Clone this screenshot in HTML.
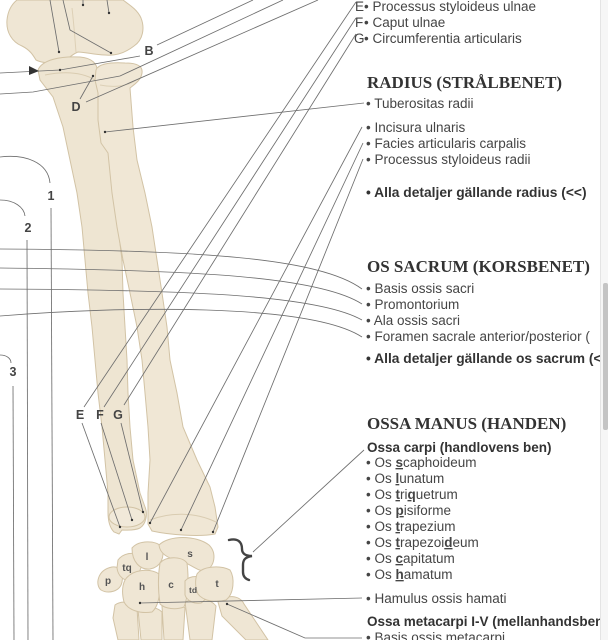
<!DOCTYPE html>
<html>
<head>
<meta charset="utf-8">
<style>
  html,body{margin:0;padding:0;background:#fff;}
  body{width:608px;height:640px;overflow:hidden;position:relative;}
  svg{position:absolute;left:0;top:0;}
  .t{font-family:"Liberation Sans",Arial,sans-serif;font-size:13.5px;fill:#454545;}
  .b{font-weight:bold;fill:#333;}
  .b2{font-size:13.8px;}
  .h{font-family:"Liberation Serif","Times New Roman",serif;font-weight:bold;font-size:17px;fill:#333;}
  .lb{font-family:"Liberation Sans",Arial,sans-serif;font-weight:bold;font-size:12.5px;fill:#444;}
  .cl{font-family:"Liberation Sans",Arial,sans-serif;font-weight:bold;font-size:10px;fill:#555;}
  .u{font-weight:bold;text-decoration:underline;}
  .bone{fill:#efe6d4;stroke:#d2c3a5;stroke-width:1;}
  .ln{fill:none;stroke:#6e6e6e;stroke-width:0.85;}
  #sb{position:absolute;left:600px;top:0;width:8px;height:640px;background:#f6f6f6;border-left:1px solid #e4e4e4;box-sizing:border-box;}
  #th{position:absolute;left:603px;top:283px;width:5px;height:147px;background:#c4c4c4;border-radius:2px;}
</style>
</head>
<body>
<svg width="608" height="640" viewBox="0 0 608 640" xmlns="http://www.w3.org/2000/svg">
  <defs>
    <linearGradient id="g1" x1="0" y1="0" x2="1" y2="0">
      <stop offset="0" stop-color="#e6dcc6"/>
      <stop offset="0.35" stop-color="#f1e9d9"/>
      <stop offset="1" stop-color="#e8dec9"/>
    </linearGradient>
  </defs>

  <!-- Humerus -->
  <path class="bone" fill="url(#g1)" d="M17,0 L123,0 C128,4 137,9 141,18 C145,28 143,40 134,46 C125,53 115,56 105,55 C95,55 85,52 78,52 C72,54 68,60 60,62 C52,64 42,63 36,60 C33,55 30,50 22,46 C12,42 6,32 7,20 C8,10 12,4 17,0 Z"/>
  <path d="M72,8 C74,25 75,40 76,52" fill="none" stroke="#ddd0b6" stroke-width="1"/>

  <!-- Ulna -->
  <path class="bone" style="fill:#eee5d2" d="M38,70 C42,60 60,56 80,57 C92,58 98,64 97,72 L98,90 L102,110 L110,153 L113,193 L118,227 L122,260 L123,293 L125,327 L127,360 L128,393 L130,427 L133,460 L140,493 L145,507 C148,514 146,524 140,528 C134,531 126,530 122,530 L119,534 L114,532 C110,528 108,522 108,512 L108,493 L105,460 L102,427 L98,393 L95,360 L92,327 L88,293 L85,260 L82,227 L77,193 L70,160 L63,127 L53,97 L40,80 Z"/>
  <path d="M45,75 C70,70 85,74 95,80" fill="none" stroke="#d9ccb1" stroke-width="1"/>
  <ellipse cx="127" cy="517" rx="18" ry="10" fill="#f1e9d9" stroke="#d2c3a5" stroke-width="1"/>

  <!-- Radius -->
  <path class="bone" style="fill:#f0e7d5" d="M96,70 C98,64 110,62 125,63 C137,63 143,66 142,73 C141,80 135,84 130,88 L133,127 L137,160 L145,193 L152,227 L157,260 L162,293 L167,327 L170,360 L177,393 L183,427 L197,460 L210,487 L215,507 L218,527 L215,534 C200,537 170,535 152,531 L148,524 L148,493 L150,460 L148,427 L145,393 L142,360 L137,327 L130,293 L123,260 L117,227 L112,193 L108,153 L101,143 L98,120 L98,93 L95,80 Z"/>
  <path d="M150,520 C170,512 195,512 216,522" fill="none" stroke="#d9ccb1" stroke-width="1"/>
  <path d="M100,85 C115,88 128,86 136,80" fill="none" stroke="#dcd0b6" stroke-width="1"/>

  <!-- Metacarpals -->
  <path class="bone" d="M115,605 C122,600 132,602 137,608 L139,640 L118,640 L113,618 Z"/>
  <path class="bone" d="M138,610 C145,606 156,606 162,612 L162,640 L141,640 Z"/>
  <path class="bone" d="M162,606 C168,602 180,602 185,608 L183,640 L164,640 Z"/>
  <path class="bone" d="M185,602 C195,597 210,598 216,606 L212,640 L190,640 Z"/>
  <path class="bone" d="M218,602 C226,594 240,595 244,604 L268,640 L246,640 L222,616 Z"/>

  <!-- Carpals -->
  <path class="bone" d="M112,567 C120,566 124,572 122,582 C120,592 108,594 101,590 C95,585 97,570 112,567 Z"/>
  <path class="bone" d="M118,560 C124,552 135,552 141,556 C144,563 140,575 132,580 C124,582 118,576 117,568 Z"/>
  <path class="bone" d="M132,548 C139,540 156,540 162,547 C165,557 161,567 150,569 C140,570 132,562 132,548 Z"/>
  <path class="bone" d="M159,545 C169,535 196,535 209,545 C217,553 215,567 205,571 C196,571 190,563 180,561 C170,559 160,555 159,545 Z"/>
  <path class="bone" d="M125,580 C132,569 150,568 159,574 C161,588 160,605 152,612 C140,614 128,610 124,602 C122,594 122,586 125,580 Z"/>
  <path class="bone" d="M160,563 C166,556 182,556 187,563 C189,578 188,598 184,607 C176,610 165,609 160,604 C158,590 158,575 160,563 Z"/>
  <path class="bone" d="M185,581 C190,575 202,575 207,581 C209,590 207,600 201,603 C194,604 187,601 185,595 Z"/>
  <path class="bone" d="M197,574 C203,566 220,565 230,570 C235,578 234,594 226,600 C216,603 203,601 198,594 C195,588 195,580 197,574 Z"/>

  <text class="cl" x="147" y="560" text-anchor="middle">l</text>
  <text class="cl" x="190" y="557" text-anchor="middle">s</text>
  <text class="cl" x="127" y="571" text-anchor="middle">tq</text>
  <text class="cl" x="108" y="584" text-anchor="middle">p</text>
  <text class="cl" x="142" y="590" text-anchor="middle">h</text>
  <text class="cl" x="171" y="588" text-anchor="middle">c</text>
  <text class="cl" x="193" y="593" text-anchor="middle" style="font-size:8.5px">td</text>
  <text class="cl" x="217" y="587" text-anchor="middle">t</text>

  <!-- Brace -->
  <path d="M229,540 C238,538 242,542 242,549 C242,553 245,556 252,556 C245,557 243,560 243,565 L243,572 C243,577 246,579 249,580" fill="none" stroke="#444" stroke-width="2.4" stroke-linecap="round"/>

  <!-- Leader lines -->
  <g class="ln">
    <line x1="50" y1="0" x2="59" y2="52"/>
    <polyline points="63,0 70,30 111,53"/>
    <line x1="83" y1="0" x2="83" y2="5"/>
    <line x1="107" y1="0" x2="109" y2="13"/>
    <polyline points="0,73 60,70 140,56"/>
    <line x1="157" y1="45" x2="253" y2="0"/>
    <polyline points="0,94 33,92 120,76 283,0"/>
    <line x1="80" y1="99" x2="93" y2="76"/>
    <line x1="86" y1="102" x2="318" y2="0"/>
    <line x1="105" y1="132" x2="364" y2="103"/>
    <line x1="84" y1="407" x2="356" y2="2"/>
    <line x1="104" y1="407" x2="356" y2="18"/>
    <line x1="124" y1="405" x2="356" y2="34"/>
    <line x1="82" y1="423" x2="120" y2="527"/>
    <line x1="101" y1="423" x2="132" y2="520"/>
    <line x1="121" y1="423" x2="143" y2="512"/>
    <line x1="150" y1="523" x2="362" y2="127"/>
    <line x1="181" y1="530" x2="363" y2="143"/>
    <line x1="213" y1="532" x2="363" y2="159"/>
    <path d="M0,249 C200,250 320,258 362,289"/>
    <path d="M0,268 C200,270 320,277 362,304"/>
    <path d="M0,289 C200,290 320,296 362,320"/>
    <path d="M0,316 C120,306 310,303 362,337"/>
    <path d="M0,157 C25,154 48,162 50,183"/>
    <path d="M0,200 C14,200 24,207 25,216"/>
    <path d="M0,355 C6,355 11,358 11,363"/>
    <line x1="51" y1="208" x2="53" y2="640"/>
    <line x1="27" y1="240" x2="28" y2="640"/>
    <line x1="13" y1="386" x2="14" y2="640"/>
    <line x1="253" y1="552" x2="364" y2="450"/>
    <line x1="140" y1="603" x2="362" y2="598"/>
    <polyline points="227,604 305,638 362,638"/>
  </g>
  <polygon points="29,66 39,71 29,75" fill="#333"/>

  <g fill="#333">
    <circle cx="59" cy="52" r="1.2"/><circle cx="111" cy="53" r="1.2"/>
    <circle cx="83" cy="5" r="1.2"/><circle cx="109" cy="13" r="1.2"/>
    <circle cx="60" cy="70" r="1.2"/><circle cx="93" cy="76" r="1.2"/>
    <circle cx="105" cy="132" r="1.2"/>
    <circle cx="120" cy="527" r="1.2"/><circle cx="132" cy="520" r="1.2"/><circle cx="143" cy="512" r="1.2"/>
    <circle cx="150" cy="523" r="1.2"/><circle cx="181" cy="530" r="1.2"/><circle cx="213" cy="532" r="1.2"/>
    <circle cx="140" cy="603" r="1.2"/><circle cx="227" cy="604" r="1.2"/>
  </g>

  <text class="lb" x="149" y="55" text-anchor="middle">B</text>
  <text class="lb" x="76" y="111" text-anchor="middle">D</text>
  <text class="lb" x="80" y="419" text-anchor="middle">E</text>
  <text class="lb" x="100" y="419" text-anchor="middle">F</text>
  <text class="lb" x="118" y="419" text-anchor="middle">G</text>
  <text class="lb" x="51" y="200" text-anchor="middle">1</text>
  <text class="lb" x="28" y="232" text-anchor="middle">2</text>
  <text class="lb" x="13" y="376" text-anchor="middle">3</text>

  <text class="t" x="355" y="11">E</text>
  <text class="t" x="364" y="11">• Processus styloideus ulnae</text>
  <text class="t" x="355" y="27">F</text>
  <text class="t" x="364" y="27">• Caput ulnae</text>
  <text class="t" x="354" y="43">G</text>
  <text class="t" x="364" y="43">• Circumferentia articularis</text>

  <text class="h" x="367" y="88">RADIUS (STRÅLBENET)</text>
  <text class="t" x="366" y="108">• Tuberositas radii</text>
  <text class="t" x="366" y="132">• Incisura ulnaris</text>
  <text class="t" x="366" y="148">• Facies articularis carpalis</text>
  <text class="t" x="366" y="164">• Processus styloideus radii</text>
  <text class="t b b2" x="366" y="197">• Alla detaljer gällande radius (&lt;&lt;)</text>

  <text class="h" x="367" y="272">OS SACRUM (KORSBENET)</text>
  <text class="t" x="366" y="293">• Basis ossis sacri</text>
  <text class="t" x="366" y="309">• Promontorium</text>
  <text class="t" x="366" y="325">• Ala ossis sacri</text>
  <text class="t" x="366" y="341">• Foramen sacrale anterior/posterior (</text>
  <text class="t b b2" x="366" y="363">• Alla detaljer gällande os sacrum (&lt;</text>

  <text class="h" x="367" y="429">OSSA MANUS (HANDEN)</text>
  <text class="t b" x="367" y="452">Ossa carpi (handlovens ben)</text>
  <text class="t" x="366" y="467">• Os <tspan class="u">s</tspan>caphoideum</text>
  <text class="t" x="366" y="483">• Os <tspan class="u">l</tspan>unatum</text>
  <text class="t" x="366" y="499">• Os <tspan class="u">t</tspan>ri<tspan class="u">q</tspan>uetrum</text>
  <text class="t" x="366" y="515">• Os <tspan class="u">p</tspan>isiforme</text>
  <text class="t" x="366" y="531">• Os <tspan class="u">t</tspan>rapezium</text>
  <text class="t" x="366" y="547">• Os <tspan class="u">t</tspan>rapezoi<tspan class="u">d</tspan>eum</text>
  <text class="t" x="366" y="563">• Os <tspan class="u">c</tspan>apitatum</text>
  <text class="t" x="366" y="579">• Os <tspan class="u">h</tspan>amatum</text>
  <text class="t" x="366" y="603">• Hamulus ossis hamati</text>
  <text class="t b" x="367" y="626">Ossa metacarpi I-V (mellanhandsben)</text>
  <text class="t" x="366" y="642">• Basis ossis metacarpi</text>
</svg>
<div id="sb"></div>
<div id="th"></div>
</body>
</html>
